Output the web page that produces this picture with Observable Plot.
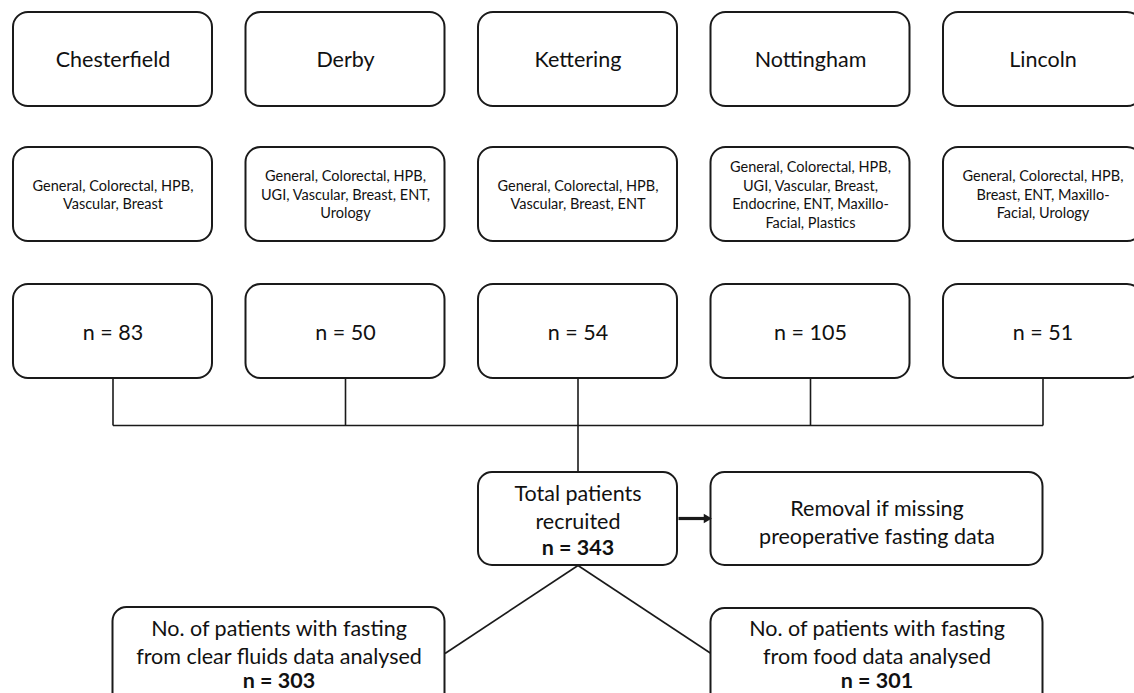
<!DOCTYPE html>
<html>
<head>
<meta charset="utf-8">
<script src="https://cdn.jsdelivr.net/npm/d3@7"></script>
<script src="https://cdn.jsdelivr.net/npm/@observablehq/plot@0.6"></script>
<style>
  html, body { margin: 0; padding: 0; background: #fff; overflow: hidden; }
  #chart svg { display: block; overflow: hidden; }
</style>
</head>
<body>
<div id="chart"></div>
<script>
// ---- Data ----
const sites = ["Chesterfield", "Derby", "Kettering", "Nottingham", "Lincoln"];
const specialties = [
  "General, Colorectal, HPB,\nVascular, Breast",
  "General, Colorectal, HPB,\nUGI, Vascular, Breast, ENT,\nUrology",
  "General, Colorectal, HPB,\nVascular, Breast, ENT",
  "General, Colorectal, HPB,\nUGI, Vascular, Breast,\nEndocrine, ENT, Maxillo-\nFacial, Plastics",
  "General, Colorectal, HPB,\nBreast, ENT, Maxillo-\nFacial, Urology"
];
const siteCounts = [83, 50, 54, 105, 51];
const totalLabel = "Total patients\nrecruited";
const totalCount = 343;
const exclusionLabel = "Removal if missing\npreoperative fasting data";
const outcomeLabels = [
  "No. of patients with fasting\nfrom clear fluids data analysed",
  "No. of patients with fasting\nfrom food data analysed"
];
const outcomeCounts = [303, 301];

// ---- Layout (grid) ----
const W = 1134, H = 693;
const colStep = 232.5, colStart = 13, boxW = 199;
const left = i => colStart + i * colStep;
const center = i => left(i) + boxW / 2;
const rows = [{top: 12, h: 94}, {top: 147, h: 94}, {top: 284, h: 94}];
const busY = 425;
const mid = Math.floor(sites.length / 2);
const total = {x1: left(mid), x2: left(mid) + boxW, y1: 472, y2: 565};
const excl = {x1: left(mid + 1), x2: center(mid + 2), y1: 472, y2: 565};
const outBoxes = [
  {x1: center(0), x2: left(1) + boxW, y1: 607, y2: 712},
  {x1: left(mid + 1), x2: center(mid + 2), y1: 608, y2: 712}
];

const siteRows = sites.map((s, i) => ({i, site: s, spec: specialties[i], n: siteCounts[i]}));

const rowBoxes = [];
rows.forEach((r, ri) => siteRows.forEach(d => rowBoxes.push({
  x1: left(d.i), x2: left(d.i) + boxW, y1: r.top, y2: r.top + r.h
})));

const links = [];
siteRows.forEach(d => links.push({x1: center(d.i), y1: rows[2].top + rows[2].h, x2: center(d.i), y2: busY}));
links.push({x1: center(0), y1: busY, x2: center(sites.length - 1), y2: busY});
links.push({x1: center(mid), y1: busY, x2: center(mid), y2: total.y1});
const apex = {x: (total.x1 + total.x2) / 2, y: total.y2};
links.push({x1: apex.x, y1: apex.y, x2: outBoxes[0].x2, y2: 653});
links.push({x1: apex.x, y1: apex.y, x2: outBoxes[1].x1, y2: 653});

const bigFont = 21.5, smallFont = 14.5;
const ink = "#1a1a1a";
const arrowY = 518;

const outText = outcomeLabels.map((t, k) => ({
  x: (outBoxes[k].x1 + outBoxes[k].x2) / 2, y: 626 + 14.25, t
}));
const outNum = outcomeCounts.map((n, k) => ({
  x: (outBoxes[k].x1 + outBoxes[k].x2) / 2, y: 681, t: `n = ${n}`
}));

const chart = Plot.plot({
  width: W, height: H, margin: 0,
  x: {domain: [0, W], range: [0, W], axis: null},
  y: {domain: [0, H], range: [0, H], axis: null},
  style: {fontFamily: "Lato, sans-serif", background: "#fff", color: "#111", overflow: "hidden"},
  marks: [
    Plot.link(links, {x1: "x1", y1: "y1", x2: "x2", y2: "y2", stroke: ink, strokeWidth: 1.6}),
    Plot.rect(rowBoxes, {x1: "x1", x2: "x2", y1: "y1", y2: "y2", rx: 15, fill: "#fff", stroke: ink, strokeWidth: 2}),
    Plot.rect([total, excl, ...outBoxes], {x1: "x1", x2: "x2", y1: "y1", y2: "y2", rx: 14, fill: "#fff", stroke: ink, strokeWidth: 2}),
    // arrow: thick shaft + filled head
    Plot.link([{x1: total.x2 + 1, x2: excl.x1 - 6}], {x1: "x1", x2: "x2", y1: arrowY, y2: arrowY, stroke: ink, strokeWidth: 3.2}),
    Plot.dot([{x: excl.x1 - 4.5}], {x: "x", y: arrowY, symbol: "triangle2", rotate: 90, r: 4.5, fill: ink, stroke: "none"}),
    // row 1: site names
    Plot.text(siteRows, {x: d => center(d.i), y: rows[0].top + rows[0].h / 2 + 1, text: "site", fontSize: bigFont, fill: "#111"}),
    // row 2: specialties
    Plot.text(siteRows, {x: d => center(d.i), y: rows[1].top + rows[1].h / 2 - 0.5, text: "spec", fontSize: smallFont, lineHeight: 1.28, fill: "#111"}),
    // row 3: counts
    Plot.text(siteRows, {x: d => center(d.i), y: rows[2].top + rows[2].h / 2 + 1.5, text: d => `n = ${d.n}`, fontSize: bigFont, fill: "#111"}),
    // total
    Plot.text([totalLabel], {x: (total.x1 + total.x2) / 2, y: 506, text: d => d, fontSize: bigFont, lineHeight: 1.3, fill: "#111"}),
    Plot.text([totalCount], {x: (total.x1 + total.x2) / 2, y: 548, text: d => `n = ${d}`, fontSize: bigFont, fontWeight: "bold", fill: "#111"}),
    // exclusion
    Plot.text([exclusionLabel], {x: (excl.x1 + excl.x2) / 2, y: 520.5, text: d => d, fontSize: bigFont, lineHeight: 1.33, fill: "#111"}),
    // outcomes
    Plot.text(outText, {x: "x", y: "y", text: "t", fontSize: bigFont, lineHeight: 1.33, fill: "#111"}),
    Plot.text(outNum, {x: "x", y: "y", text: "t", fontSize: bigFont, fontWeight: "bold", fill: "#111"})
  ]
});
document.getElementById("chart").appendChild(chart);
</script>
</body>
</html>
